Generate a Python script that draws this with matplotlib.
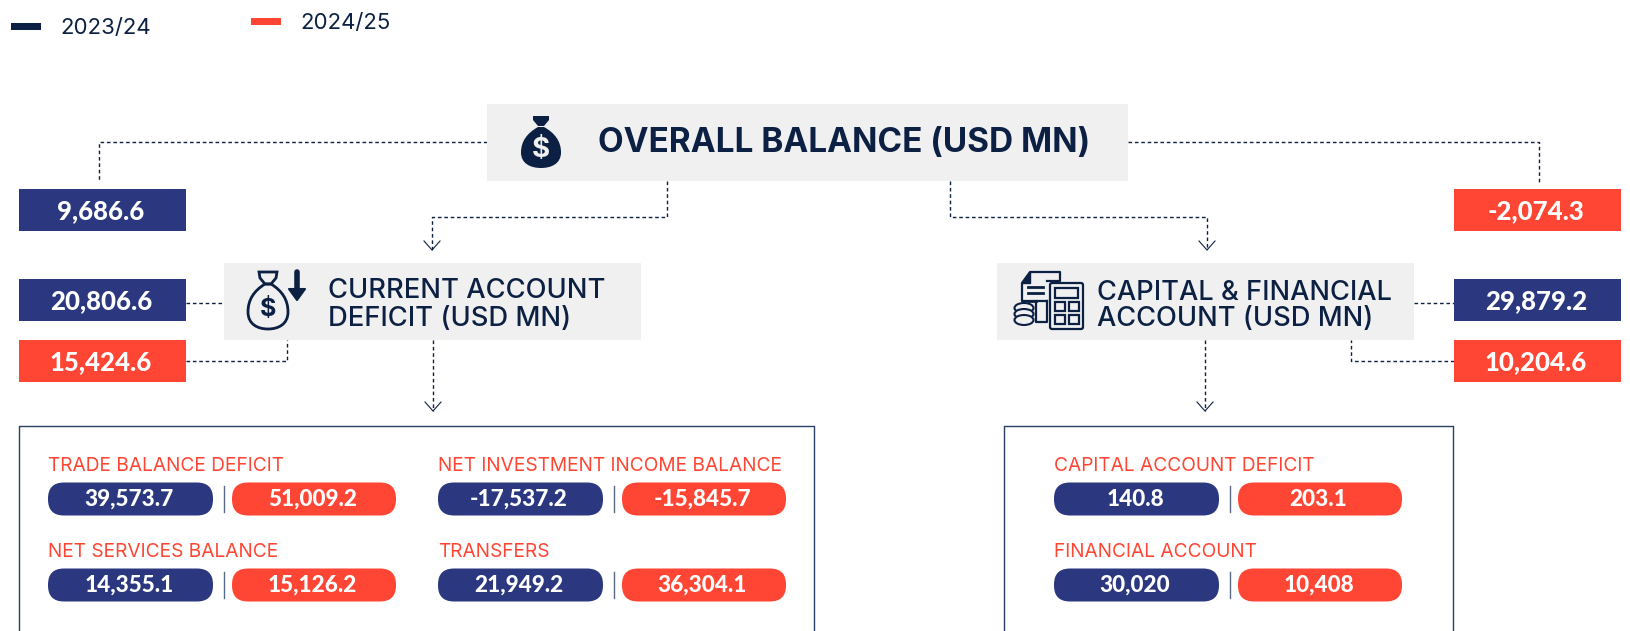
import matplotlib
matplotlib.use("Agg")
import matplotlib.pyplot as plt
from matplotlib.patches import Rectangle, FancyBboxPatch, Ellipse, Polygon, PathPatch
from matplotlib.path import Path

plt.rcParams['font.family'] = ['Inter', 'DejaVu Sans']

NAVY = '#0b2042'
BLUE = '#2b387f'
RED = '#ff4533'
GREY = '#f0f0f0'

legend_labels = ['2023/24', '2024/25']

overall_values = ['9,686.6', '-2,074.3']
current_values = ['20,806.6', '15,424.6']
capital_values = ['29,879.2', '10,204.6']

current_items = ['TRADE BALANCE DEFICIT', 'NET INVESTMENT INCOME BALANCE', 'NET SERVICES BALANCE', 'TRANSFERS']
current_2324 = ['39,573.7', '-17,537.2', '14,355.1', '21,949.2']
current_2425 = ['51,009.2', '-15,845.7', '15,126.2', '36,304.1']

capital_items = ['CAPITAL ACCOUNT DEFICIT', 'FINANCIAL ACCOUNT']
capital_2324 = ['140.8', '30,020']
capital_2425 = ['203.1', '10,408']

fig = plt.figure(figsize=(16.3, 6.31), dpi=100)
ax = fig.add_axes([0, 0, 1, 1])
ax.set_xlim(0, 1630)
ax.set_ylim(631, 0)
ax.set_axis_off()


def box(x0, y0, x1, y1, color, z=2):
    ax.add_patch(Rectangle((x0, y0), x1 - x0, y1 - y0, facecolor=color, edgecolor='none', zorder=z))


def dashed(xs, ys):
    ax.plot(xs, ys, color=NAVY, lw=1, dashes=(2.6, 2), zorder=1)


def arrow_head(x, y):
    ax.plot([x - 8, x, x + 8], [y - 9, y, y - 9], color=NAVY, lw=0.8, zorder=3)


def value_box(x0, y0, label, color):
    box(x0, y0, x0 + 167, y0 + 42, color)
    ax.text(x0 + 82, y0 + 22, label, color='white', fontsize=18.5, fontweight=900, family='Lato',
            ha='center', va='center', zorder=4)


def pill(x0, x1, y0, label, color):
    ax.add_patch(FancyBboxPatch((x0 + 16, y0 + 16.5), x1 - x0 - 32, 1, boxstyle='round,pad=16',
                                facecolor=color, edgecolor='none', zorder=2))
    ax.text((x0 + x1) / 2 - 1.5, y0 + 17, label, color='white', fontsize=16.2, fontweight=900, family='Lato',
            ha='center', va='center', zorder=4)


def item(x, y, label, left, right):
    # x is the left edge of the blue pill, y the centre of the red caption
    ax.text(x, y + 1, label, color=RED, fontsize=13.8, ha='left', va='center', zorder=4)
    pill(x, x + 165, y + 17, left, BLUE)
    ax.plot([x + 176, x + 176], [y + 21, y + 47], color='#5a6a85', lw=1, zorder=3)
    pill(x + 184, x + 348, y + 17, right, RED)


def bag_body(cx, y0, y1, half):
    # pear shape, narrow at the neck and wide at the bottom
    h = y1 - y0
    verts = [(cx - 3, y0),
             (cx - half * 0.7, y0 + h * 0.15), (cx - half, y0 + h * 0.35), (cx - half, y0 + h * 0.62),
             (cx - half, y0 + h * 0.9), (cx - half * 0.5, y1), (cx, y1),
             (cx + half * 0.5, y1), (cx + half, y0 + h * 0.9), (cx + half, y0 + h * 0.62),
             (cx + half, y0 + h * 0.35), (cx + half * 0.7, y0 + h * 0.15), (cx + 3, y0),
             (cx - 3, y0)]
    codes = [Path.MOVETO] + [Path.CURVE4] * 12 + [Path.CLOSEPOLY]
    return Path(verts, codes)


def bag(cx, top, filled):
    if filled:
        ax.add_patch(Polygon([(cx - 8, top), (cx + 8, top), (cx + 8, top + 4), (cx + 3, top + 10), (cx - 3, top + 10), (cx - 8, top + 4)],
                             facecolor=NAVY, edgecolor='none', zorder=3))
        ax.add_patch(PathPatch(bag_body(cx, top + 11, top + 52, 20), facecolor=NAVY, edgecolor='none', zorder=3))
        ax.text(cx, top + 34, '$', color=GREY, fontsize=20, fontweight='bold', ha='center', va='center', zorder=4)
    else:
        ax.add_patch(Polygon([(cx - 9, top), (cx + 9, top), (cx + 8, top + 6), (cx + 3, top + 12), (cx - 3, top + 12), (cx - 8, top + 6)],
                             facecolor='none', edgecolor=NAVY, lw=2, zorder=3))
        ax.add_patch(PathPatch(bag_body(cx, top + 12, top + 57, 20), facecolor='none', edgecolor=NAVY, lw=2, zorder=3))
        ax.text(cx, top + 37, '$', color=NAVY, fontsize=18, fontweight='bold', ha='center', va='center', zorder=4)


def calc_icon():
    line = dict(facecolor='none', edgecolor=NAVY, lw=1.6, zorder=3)
    ax.plot([1047, 1036, 1036, 1047, 1047], [301, 301, 322, 322, 301], color=NAVY, lw=1.6, zorder=3)
    ax.plot([1036, 1022, 1022, 1030, 1060, 1060, 1047], [301, 301, 283, 272, 272, 281, 281], color=NAVY, lw=1.6, zorder=3)
    ax.add_patch(Polygon([(1022, 283), (1030, 283), (1030, 272)], facecolor=NAVY, edgecolor=NAVY, zorder=3))
    for ly in [287, 293]:
        ax.plot([1028, 1043], [ly, ly], color=NAVY, lw=2, zorder=3)
    ax.plot([1028, 1036], [301, 301], color=NAVY, lw=2, zorder=3)
    ax.add_patch(FancyBboxPatch((1052, 285), 29, 42, boxstyle='round,pad=2', **line))
    ax.add_patch(Rectangle((1055, 288), 23, 10, **line))
    for bx in [1055, 1069]:
        for by in [302, 315]:
            ax.add_patch(Rectangle((bx, by), 10, 9, **line))
    for cy in [308, 314, 320]:
        ax.add_patch(Ellipse((1024, cy), 19, 10, facecolor=GREY, edgecolor=NAVY, lw=1.5, zorder=3))


# legend
box(11, 23, 41, 30, NAVY)
ax.text(60, 28, legend_labels[0], color=NAVY, fontsize=16, ha='left', va='center')
box(251, 18, 281, 25, RED)
ax.text(300, 23, legend_labels[1], color=NAVY, fontsize=16, ha='left', va='center')

# header boxes
box(487, 104, 1128, 181, GREY)
box(224, 263, 641, 340, GREY)
box(997, 263, 1414, 340, GREY)

ax.text(598, 143, 'OVERALL BALANCE (USD MN)', color=NAVY, fontsize=24, fontweight='bold', ha='left', va='center', zorder=4)
ax.text(328, 291, 'CURRENT ACCOUNT', color=NAVY, fontsize=19.7, fontweight='medium', ha='left', va='center', zorder=4)
ax.text(328, 319, 'DEFICIT (USD MN)', color=NAVY, fontsize=19.7, fontweight='medium', ha='left', va='center', zorder=4)
ax.text(1097, 293, 'CAPITAL & FINANCIAL', color=NAVY, fontsize=19.6, fontweight='medium', ha='left', va='center', zorder=4)
ax.text(1097, 319, 'ACCOUNT (USD MN)', color=NAVY, fontsize=19.6, fontweight='medium', ha='left', va='center', zorder=4)

bag(541, 116, True)
bag(268, 272, False)
ax.plot([297, 297], [272, 292], color=NAVY, lw=4, solid_capstyle='round', zorder=3)
ax.add_patch(Polygon([(289, 289), (305, 289), (297, 300)], facecolor=NAVY, edgecolor=NAVY, lw=1.5, joinstyle='round', zorder=3))
calc_icon()

# connectors
dashed([487, 99, 99], [142, 142, 182])
dashed([1128, 1539, 1539], [142, 142, 182])
dashed([667, 667, 432, 432], [181, 217, 217, 250])
arrow_head(432, 250)
dashed([950, 950, 1207, 1207], [181, 217, 217, 250])
arrow_head(1207, 250)
dashed([186, 224], [303, 303])
dashed([186, 287, 287], [361, 361, 340])
dashed([433, 433], [340, 411])
arrow_head(433, 411)
dashed([1414, 1454], [303, 303])
dashed([1454, 1351, 1351], [361, 361, 340])
dashed([1205, 1205], [340, 411])
arrow_head(1205, 411)

# value boxes
value_box(19, 189, overall_values[0], BLUE)
value_box(1454, 189, overall_values[1], RED)
value_box(19, 279, current_values[0], BLUE)
value_box(19, 340, current_values[1], RED)
value_box(1454, 279, capital_values[0], BLUE)
value_box(1454, 340, capital_values[1], RED)

# detail panels run off the bottom of the picture
ax.plot([19, 19, 814, 814], [631, 426, 426, 631], color='#2a3f66', lw=1, zorder=1)
ax.plot([1003.5, 1003.5, 1453, 1453], [631, 426, 426, 631], color='#2a3f66', lw=1, zorder=1)

current_x = [48, 438, 48, 438]
current_y = [465, 465, 551, 551]
for i in range(len(current_items)):
    item(current_x[i], current_y[i], current_items[i], current_2324[i], current_2425[i])

capital_y = [465, 551]
for i in range(len(capital_items)):
    item(1054, capital_y[i], capital_items[i], capital_2324[i], capital_2425[i])

fig.savefig('out.png', dpi=100, facecolor='white')
